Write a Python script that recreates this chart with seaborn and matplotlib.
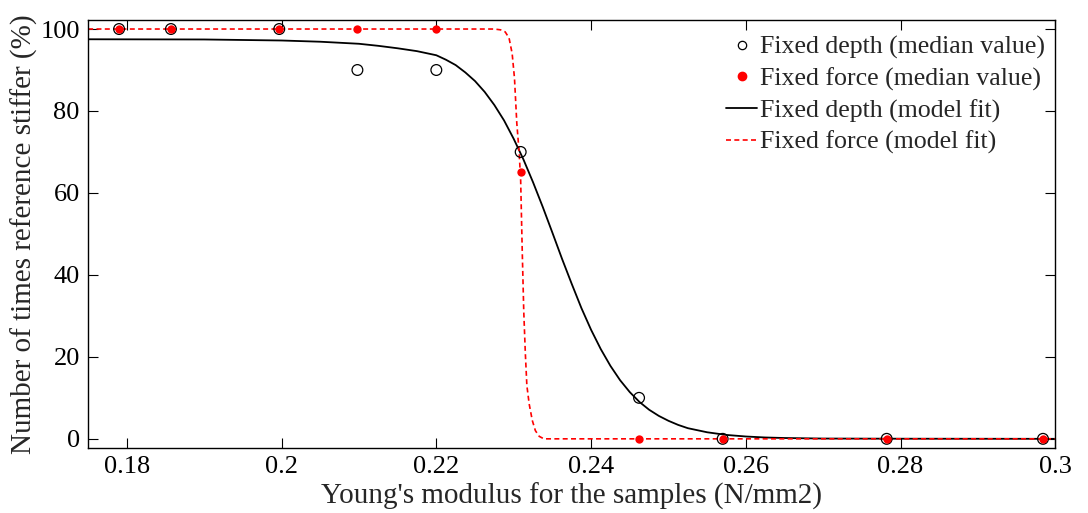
import matplotlib
matplotlib.use("Agg")
import matplotlib.pyplot as plt
import seaborn as sns
from matplotlib.lines import Line2D

# Median values per sample
youngs_modulus = [0.179, 0.1857, 0.1997, 0.2098, 0.2200, 0.2309, 0.2462, 0.2570, 0.2782, 0.2984]
depth_median = [100, 100, 100, 90, 90, 70, 10, 0, 0, 0]
force_median = [100, 100, 100, 100, 100, 65, 0, 0, 0, 0]

# Model fit curves
depth_fit_x = [0.175, 0.190, 0.200, 0.205, 0.210, 0.2125, 0.215, 0.2175, 0.220,
               0.22125, 0.2225, 0.22375, 0.225, 0.22625, 0.2275, 0.22875, 0.230,
               0.23125, 0.2325, 0.23375, 0.235, 0.23625, 0.2375, 0.23875, 0.240,
               0.24125, 0.2425, 0.24375, 0.245, 0.24625, 0.2475, 0.24875, 0.250,
               0.25125, 0.2525, 0.255, 0.2575, 0.260, 0.2625, 0.265, 0.270, 0.280, 0.300]
depth_fit_y = [97.5, 97.45, 97.2, 96.9, 96.4, 95.9, 95.3, 94.6, 93.6,
               92.5, 91.2, 89.4, 87.3, 84.65, 81.45, 77.7, 73.2,
               68.2, 62.6, 56.6, 50.3, 43.9, 37.8, 31.9, 26.6,
               21.9, 17.8, 14.3, 11.4, 9.0, 7.1, 5.6, 4.4,
               3.4, 2.6, 1.6, 0.95, 0.57, 0.33, 0.2, 0.07, 0.03, 0.0]
force_fit_x = [0.175, 0.2275, 0.2283, 0.2289, 0.2294, 0.2298, 0.2301, 0.2304, 0.2307,
               0.2309, 0.2311, 0.2313, 0.2315, 0.2317, 0.2320, 0.2324, 0.2328,
               0.2333, 0.2339, 0.300]
force_fit_y = [100, 100, 99.8, 99.3, 97.8, 94, 88, 77, 70,
               63, 46, 31, 21, 13, 8.5, 4.5, 2,
               0.6, 0, 0]

sns.set_theme(style="ticks")
plt.rcParams["font.family"] = ["Liberation Serif", "DejaVu Serif"]

fig, ax = plt.subplots(figsize=(10.88, 5.13), dpi=100)
fig.subplots_adjust(left=0.081, right=0.970, bottom=0.127, top=0.961)

sns.lineplot(x=depth_fit_x, y=depth_fit_y, ax=ax, color="black", lw=1.3,
             estimator=None, sort=False)
sns.lineplot(x=force_fit_x, y=force_fit_y, ax=ax, color="red", lw=1.2,
             estimator=None, sort=False, dashes=False, linestyle=(0, (3, 2)))
sns.scatterplot(x=youngs_modulus, y=depth_median, ax=ax, marker="o", s=60,
                fc="none", ec="black", linewidth=0.9, zorder=3)
sns.scatterplot(x=youngs_modulus, y=force_median, ax=ax, marker="o", s=36,
                color="red", ec="red", linewidth=0, zorder=4)

ax.set_xlim(0.175, 0.3)
ax.set_ylim(-2.2, 102.2)
ax.set_xticks([0.18, 0.2, 0.22, 0.24, 0.26, 0.28, 0.3])
ax.set_xticklabels(["0.18", "0.2", "0.22", "0.24", "0.26", "0.28", "0.3"])
ax.set_yticks([0, 20, 40, 60, 80, 100])
ax.tick_params(direction="in", length=7, width=0.8, labelsize=19, top=True, right=True,
               colors="black", pad=6)
for s in ax.spines.values():
    s.set_visible(True)
    s.set_linewidth(1.0)
    s.set_color("black")

ax.set_xlabel("Young's modulus for the samples (N/mm2)", fontsize=21, labelpad=3)
ax.set_ylabel("Number of times reference stiffer (%)", fontsize=21, labelpad=2)

handles = [
    Line2D([], [], ls="none", marker="o", mfc="none", mec="black", ms=6, mew=0.9),
    Line2D([], [], ls="none", marker="o", mfc="red", mec="red", ms=6),
    Line2D([], [], color="black", lw=1.3),
    Line2D([], [], color="red", lw=1.2, ls=(0, (3, 2))),
]
labels = ["Fixed depth (median value)", "Fixed force (median value)",
          "Fixed depth (model fit)", "Fixed force (model fit)"]
ax.legend(handles, labels, loc="upper right", frameon=False, fontsize=18.6,
          handlelength=1.2, handletextpad=0.1, labelspacing=0.32,
          borderaxespad=0.2, bbox_to_anchor=(1.005, 1.0))

fig.savefig("out.png", dpi=100)
